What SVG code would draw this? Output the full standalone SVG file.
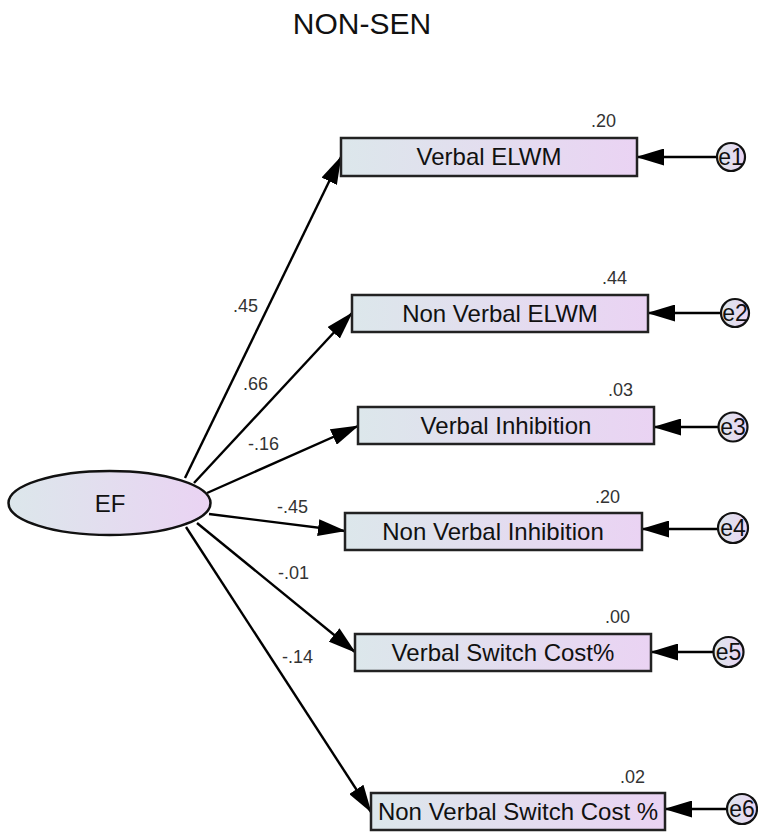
<svg xmlns="http://www.w3.org/2000/svg" width="758" height="833" viewBox="0 0 758 833">
<defs>
<linearGradient id="g" x1="0" y1="0" x2="1" y2="0">
<stop offset="0" stop-color="#dce7eb"/>
<stop offset="1" stop-color="#ead3f3"/>
</linearGradient>
<marker id="ah" viewBox="0 0 28 17" refX="27" refY="8.5" markerWidth="28" markerHeight="17" markerUnits="userSpaceOnUse" orient="auto">
<path d="M0,0 L28,8.5 L0,17 z" fill="#000"/>
</marker>
<style>
.box{fill:url(#g);stroke:#222;stroke-width:2.5}
.lbl{font-family:"Liberation Sans",Arial,sans-serif;font-size:24px;fill:#111;text-anchor:middle}
.coef{font-family:"Liberation Sans",Arial,sans-serif;font-size:18px;fill:#333}
.r2{font-family:"Liberation Sans",Arial,sans-serif;font-size:18px;fill:#333;text-anchor:end}
.err{fill:url(#g);stroke:#111;stroke-width:2.2}
.etx{font-family:"Liberation Sans",Arial,sans-serif;font-size:23px;fill:#111;text-anchor:middle}
.ln{stroke:#000;stroke-width:2.4;fill:none;marker-end:url(#ah)}
</style>
</defs>
<rect width="758" height="833" fill="#fff"/>
<text x="362" y="34" font-family="Liberation Sans, Arial, sans-serif" font-size="30" fill="#111" text-anchor="middle">NON-SEN</text>

<g id="connectors">
<line class="ln" x1="185" y1="478" x2="341" y2="157"/>
<line class="ln" x1="194" y1="483" x2="352" y2="313"/>
<line class="ln" x1="207" y1="493" x2="358" y2="426"/>
<line class="ln" x1="209" y1="514" x2="345" y2="531"/>
<line class="ln" x1="197" y1="523" x2="355" y2="652"/>
<line class="ln" x1="186" y1="527" x2="371" y2="812"/>
<line class="ln" x1="717" y1="157" x2="637" y2="157"/>
<line class="ln" x1="721" y1="313" x2="648" y2="313"/>
<line class="ln" x1="718" y1="427" x2="654" y2="427"/>
<line class="ln" x1="718" y1="529" x2="642" y2="529"/>
<line class="ln" x1="714" y1="652" x2="651" y2="652"/>
<line class="ln" x1="728" y1="809" x2="665" y2="809"/>
<text class="coef" x="233" y="312">.45</text>
<text class="coef" x="243" y="390">.66</text>
<text class="coef" x="248" y="450">-.16</text>
<text class="coef" x="277" y="513">-.45</text>
<text class="coef" x="278" y="579">-.01</text>
<text class="coef" x="282" y="663">-.14</text>
</g>

<g id="EF">
<ellipse cx="109.5" cy="503" rx="101" ry="32" fill="url(#g)" stroke="#111" stroke-width="2.5"/>
<text class="lbl" x="110" y="512">EF</text>
</g>

<g id="verbal-elwm">
<rect class="box" x="341" y="138" width="296" height="38"/>
<text class="lbl" x="489" y="165">Verbal ELWM</text>
<text class="r2" x="616" y="127">.20</text>
</g>
<g id="nonverbal-elwm">
<rect class="box" x="352" y="295" width="296" height="37"/>
<text class="lbl" x="500" y="322">Non Verbal ELWM</text>
<text class="r2" x="627" y="284">.44</text>
</g>
<g id="verbal-inhibition">
<rect class="box" x="358" y="407" width="296" height="37"/>
<text class="lbl" x="506" y="434">Verbal Inhibition</text>
<text class="r2" x="633" y="396">.03</text>
</g>
<g id="nonverbal-inhibition">
<rect class="box" x="345" y="513" width="297" height="37"/>
<text class="lbl" x="493" y="540">Non Verbal Inhibition</text>
<text class="r2" x="620" y="503">.20</text>
</g>
<g id="verbal-switch">
<rect class="box" x="355" y="634" width="296" height="37"/>
<text class="lbl" x="503" y="661">Verbal Switch Cost%</text>
<text class="r2" x="630" y="623">.00</text>
</g>
<g id="nonverbal-switch">
<rect class="box" x="371" y="793" width="294" height="37"/>
<text class="lbl" x="518" y="820">Non Verbal Switch Cost %</text>
<text class="r2" x="645" y="783">.02</text>
</g>

<g id="e1"><circle class="err" cx="731" cy="157" r="14"/><text class="etx" x="731" y="165">e1</text></g>
<g id="e2"><circle class="err" cx="735" cy="313" r="14"/><text class="etx" x="735" y="321">e2</text></g>
<g id="e3"><circle class="err" cx="733" cy="427" r="14.5"/><text class="etx" x="733" y="435">e3</text></g>
<g id="e4"><circle class="err" cx="733" cy="528" r="15"/><text class="etx" x="733" y="536">e4</text></g>
<g id="e5"><circle class="err" cx="728.5" cy="652" r="15"/><text class="etx" x="728.5" y="660">e5</text></g>
<g id="e6"><circle class="err" cx="742" cy="809" r="15"/><text class="etx" x="742" y="817">e6</text></g>
</svg>
